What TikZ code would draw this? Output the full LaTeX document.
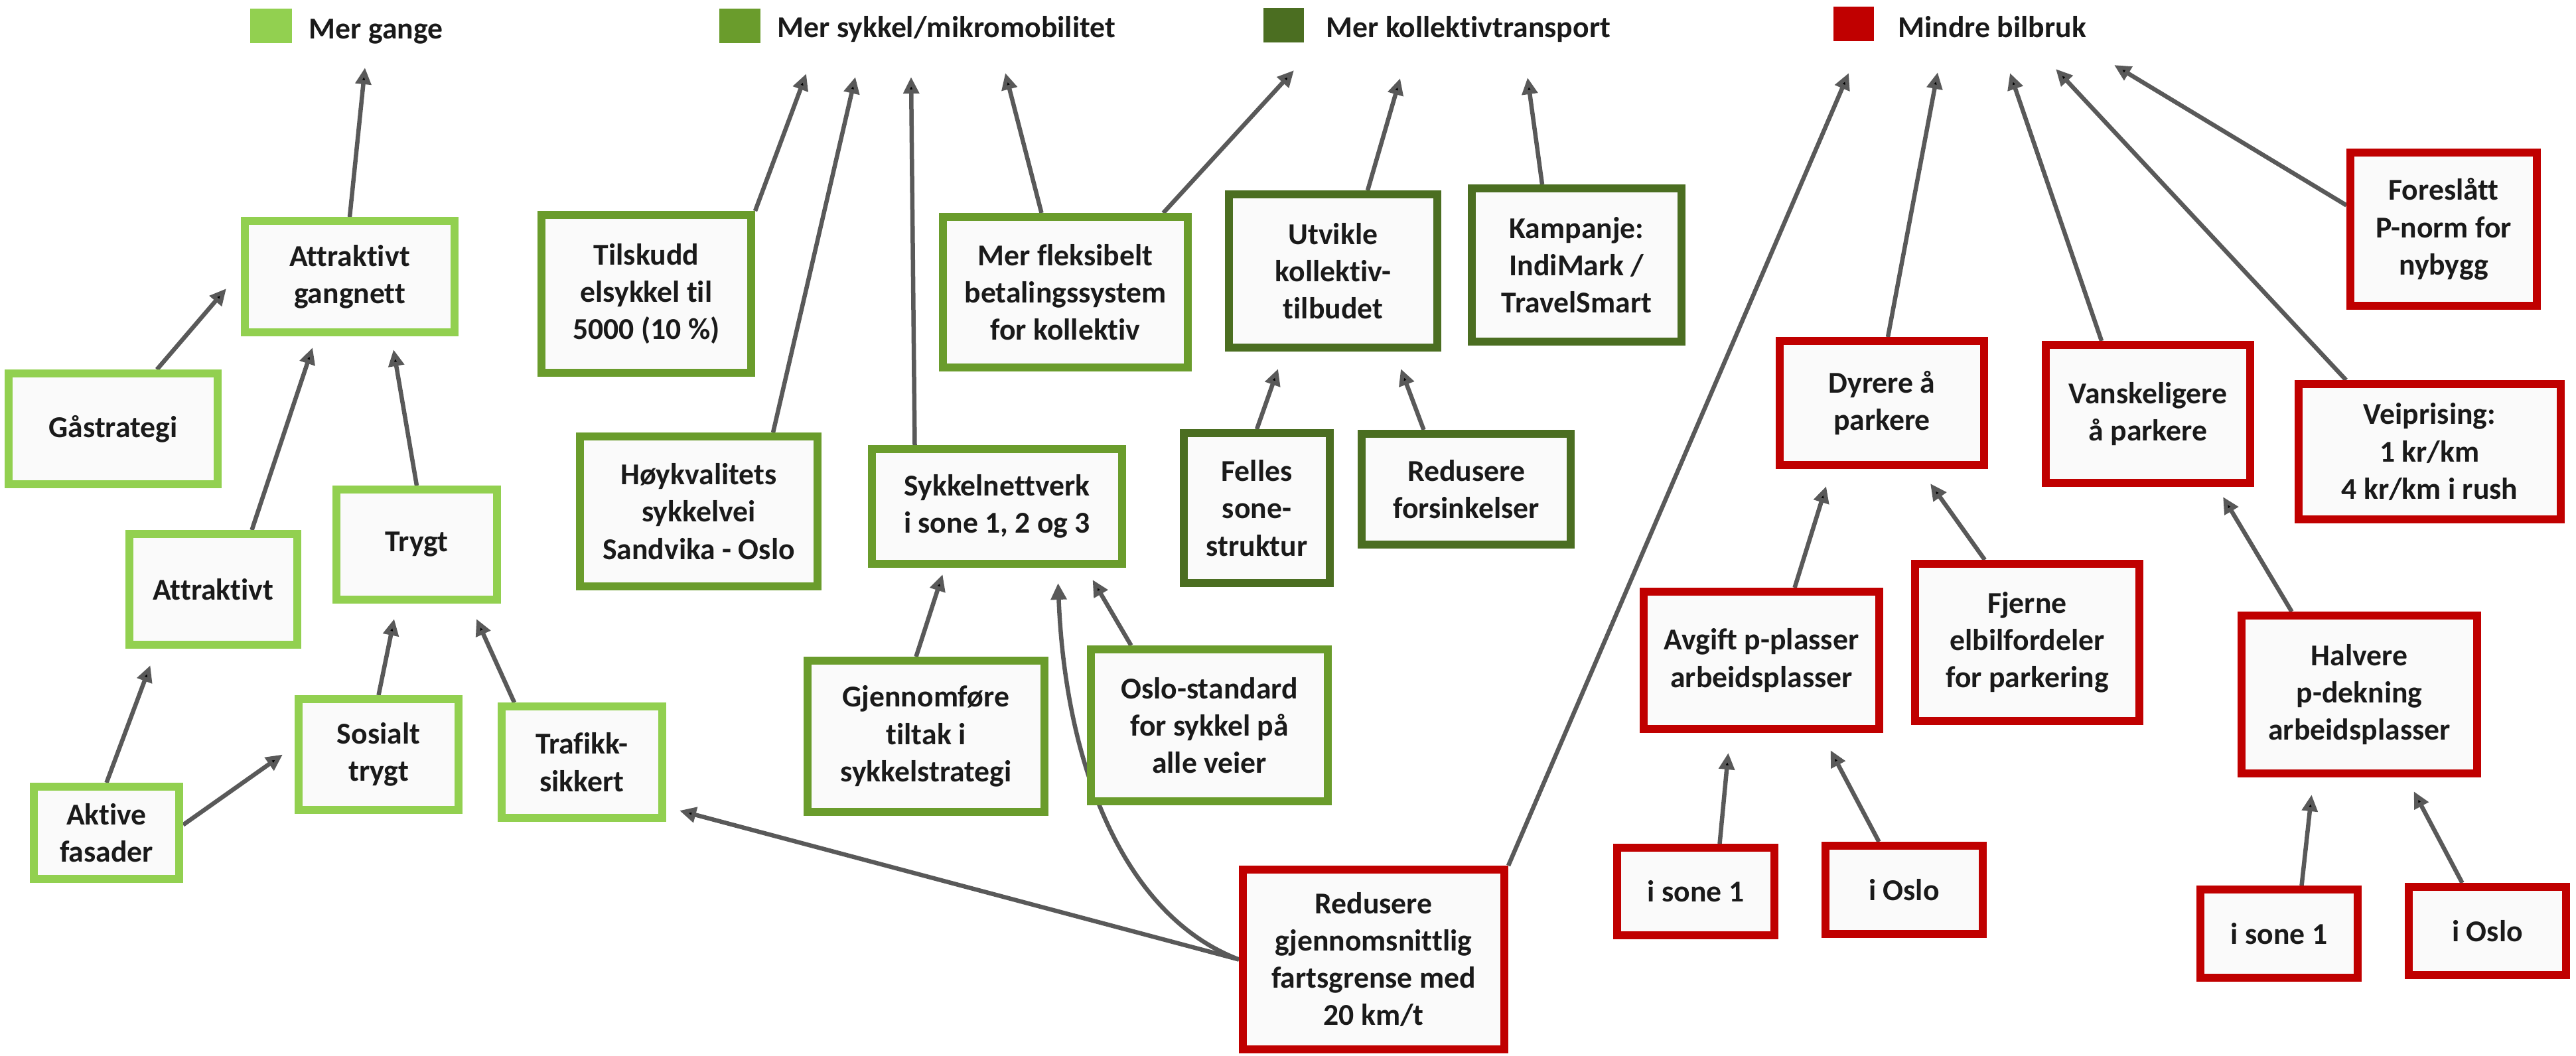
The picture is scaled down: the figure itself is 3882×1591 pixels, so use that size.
\documentclass[tikz,border=0pt]{standalone}
\usepackage{fontspec}
\setmainfont{Carlito}[Ligatures=NoCommon]
\usetikzlibrary{arrows.meta}
\pgfdeclarelayer{background}
\pgfsetlayers{background,main}
\definecolor{gangegronn}{HTML}{92D050}
\definecolor{sykkelgronn}{HTML}{6A9C2C}
\definecolor{kollgronn}{HTML}{4B6E21}
\definecolor{bilrod}{HTML}{C00000}
\definecolor{pilgraa}{HTML}{595959}
\definecolor{boksfyll}{HTML}{FAFAFA}
\definecolor{tekst}{HTML}{1A1A1A}

\begin{document}
\begin{tikzpicture}[
    x=0.1mm, y=-0.1mm,
    >={Triangle[length=2.5mm, width=2.3mm]},
    tiltak/.style={
        draw, line width=1.2mm, fill=boksfyll, text=tekst, align=center,
        inner sep=0pt, font=\bfseries\fontsize{13}{16}\selectfont
      },
    storrelse/.style 2 args={minimum width=#1mm, minimum height=#2mm},
    gange/.style={tiltak, draw=gangegronn},
    sykkel/.style={tiltak, draw=sykkelgronn},
    koll/.style={tiltak, draw=kollgronn},
    bil/.style={tiltak, draw=bilrod},
    merke/.style={
        anchor=base west, inner sep=0pt, text=tekst,
        font=\bfseries\fontsize{13}{16}\selectfont
      },
    pil/.style={->, draw=pilgraa, line width=0.65mm},
  ]
  \useasboundingbox (0,0) rectangle (3882,1591);

  \fill[gangegronn] (377,13) rectangle (440,65);
  \fill[sykkelgronn] (1084,13) rectangle (1146,65);
  \fill[kollgronn] (1904,12) rectangle (1965,64);
  \fill[bilrod] (2763,10) rectangle (2824,62);
  \node[merke] (mergange) at (465,58) {Mer gange};
  \node[merke] (mersykkel) at (1171,56) {Mer sykkel/mikromobilitet};
  \node[merke] (merkoll) at (1998,56) {Mer kollektivtransport};
  \node[merke] (mindrebil) at (2860,56) {Mindre bilbruk};

  \node[gange, storrelse={31.6}{16.8}] (gangnett) at (527,417) {Attraktivt\\gangnett};
  \node[gange, storrelse={31.5}{16.7}] (gaa) at (170.5,646.5) {Gåstrategi};
  \node[gange, storrelse={25.3}{16.7}] (attraktivt) at (321.5,888.5) {Attraktivt};
  \node[gange, storrelse={24.2}{16.6}] (trygt) at (628,821) {Trygt};
  \node[gange, storrelse={21.9}{13.9}] (aktive) at (160.5,1255.5) {Aktive\\fasader};
  \node[gange, storrelse={24.1}{16.7}] (sosialt) at (570.5,1137.5) {Sosialt\\trygt};
  \node[gange, storrelse={24.2}{16.8}] (trafikk) at (877,1149) {Trafikk-\\sikkert};

  \node[sykkel, storrelse={31.6}{23.8}] (tilskudd) at (974,443) {Tilskudd\\elsykkel til\\5000 (10 \%)};
  \node[sykkel, storrelse={35.8}{22.6}] (hoyk) at (1053,771) {Høykvalitets\\sykkelvei\\Sandvika - Oslo};
  \node[sykkel, storrelse={37.7}{17.3}] (sykkelnett) at (1502.5,763.5) {Sykkelnettverk\\i sone 1, 2 og 3};
  \node[sykkel, storrelse={35.7}{22.8}] (gjennom) at (1395.5,1110) {Gjennomføre\\tiltak i\\sykkelstrategi};
  \node[sykkel, storrelse={35.7}{22.9}] (oslostd) at (1822.5,1093.5) {Oslo-standard\\for sykkel på\\alle veier};
  \node[sykkel, storrelse={36.9}{22.7}] (fleks) at (1605.5,440.5) {Mer fleksibelt\\betalingssystem\\for kollektiv};

  \node[koll, storrelse={31.4}{23.1}] (utvikle) at (2009,408.5) {Utvikle\\kollektiv-\\tilbudet};
  \node[koll, storrelse={31.6}{23.1}] (kampanje) at (2376,399.5) {Kampanje:\\IndiMark /\\TravelSmart};
  \node[koll, storrelse={22.0}{22.6}] (felles) at (1894,766) {Felles\\sone-\\struktur};
  \node[koll, storrelse={31.5}{16.7}] (forsink) at (2209.5,737.5) {Redusere\\forsinkelser};

  \node[bil, storrelse={39.4}{27.1}] (fart) at (2070,1446.5) {Redusere\\gjennomsnittlig\\fartsgrense med\\20 km/t};
  \node[bil, storrelse={30.8}{18.7}] (dyrere) at (2836,607.5) {Dyrere å\\parkere};
  \node[bil, storrelse={30.8}{20.8}] (vansk) at (3237,624) {Vanskeligere\\å parkere};
  \node[bil, storrelse={28.1}{23.1}] (foreslatt) at (3682.5,345.5) {Foreslått\\P-norm for\\nybygg};
  \node[bil, storrelse={39.5}{20.4}] (veipris) at (3661.5,681) {Veiprising:\\1 kr/km\\4 kr/km i rush};
  \node[bil, storrelse={35.5}{20.7}] (avgift) at (2654.5,995.5) {Avgift p-plasser\\arbeidsplasser};
  \node[bil, storrelse={33.8}{23.7}] (fjerne) at (3055,968.5) {Fjerne\\elbilfordeler\\for parkering};
  \node[bil, storrelse={35.5}{23.8}] (halvere) at (3555.5,1047) {Halvere\\p-dekning\\arbeidsplasser};
  \node[bil, storrelse={23.7}{13.2}] (sone1a) at (2555.5,1344) {i sone 1};
  \node[bil, storrelse={23.7}{13.3}] (osloa) at (2869.5,1341.5) {i Oslo};
  \node[bil, storrelse={23.7}{13.3}] (sone1b) at (3434.5,1407.5) {i sone 1};
  \node[bil, storrelse={23.7}{13.3}] (oslob) at (3748.5,1403.5) {i Oslo};

  \begin{pgfonlayer}{background}
    \path[pil]
      (gangnett.north) edge ([shift={(85,44)}]mergange.base west)
      ([shift={(66,0)}]gaa.north) edge ([shift={(-22,-72)}]gangnett.south west)
      ([shift={(58,0)}]attraktivt.north) edge ([shift={(-56,17)}]gangnett.south)
      (trygt.north) edge ([shift={(66,20)}]gangnett.south)
      (aktive.north) edge ([shift={(-95,25)}]attraktivt.south)
      ([shift={(0,-12)}]aktive.east) edge ([shift={(-18,0)}]sosialt.west)
      (sosialt.north) edge ([shift={(-34,23)}]trygt.south)
      ([shift={(-102,0)}]trafikk.north) edge ([shift={(90,23)}]trygt.south)
      (fart.west) edge ([shift={(20,-17)}]trafikk.south east)
      (tilskudd.north east) edge ([shift={(44,55)}]mersykkel.base west)
      ([shift={(112,0)}]hoyk.north) edge ([shift={(118,60)}]mersykkel.base west)
      ([shift={(-124,0)}]sykkelnett.north) edge ([shift={(202,60)}]mersykkel.base west)
      ([shift={(-36,0)}]fleks.north) edge ([shift={(344,54)}]mersykkel.base west)
      ([shift={(-43,0)}]fleks.north east) edge ([shift={(-48,50)}]merkoll.base west)
      ([shift={(52,0)}]utvikle.north) edge ([shift={(112,62)}]merkoll.base west)
      ([shift={(-52,0)}]kampanje.north) edge ([shift={(304,61)}]merkoll.base west)
      (felles.north) edge ([shift={(-83,26)}]utvikle.south)
      ([shift={(-64,0)}]forsink.north) edge ([shift={(102,26)}]utvikle.south)
      ([shift={(-15,0)}]gjennom.north) edge ([shift={(-82,10)}]sykkelnett.south)
      ([shift={(-118,0)}]oslostd.north) edge ([shift={(144,18)}]sykkelnett.south)
      (fart.north east) edge ([shift={(-74,54)}]mindrebil.base west)
      ([shift={(9,0)}]dyrere.north) edge ([shift={(60,53)}]mindrebil.base west)
      ([shift={(-70,0)}]vansk.north) edge ([shift={(169,54)}]mindrebil.base west)
      ([shift={(-126,0)}]veipris.north) edge ([shift={(238,48)}]mindrebil.base west)
      ([shift={(0,-36)}]foreslatt.west) edge ([shift={(326,42)}]mindrebil.base west)
      ([shift={(50,0)}]avgift.north) edge ([shift={(-84,26)}]dyrere.south)
      ([shift={(-64,0)}]fjerne.north) edge ([shift={(73,22)}]dyrere.south)
      ([shift={(-102,0)}]halvere.north) edge ([shift={(113,15)}]vansk.south)
      ([shift={(36,0)}]sone1a.north) edge ([shift={(-50,30)}]avgift.south)
      ([shift={(-38,0)}]osloa.north) edge ([shift={(104,26)}]avgift.south)
      ([shift={(34,0)}]sone1b.north) edge ([shift={(-72,26)}]halvere.south)
      ([shift={(-38,0)}]oslob.north) edge ([shift={(82,21)}]halvere.south)
    ;
    \draw[pil] (fart.west) .. controls +(-173,-66) and +(11,277) .. ([shift={(92,23)}]sykkelnett.south);
  \end{pgfonlayer}
\end{tikzpicture}
\end{document}
